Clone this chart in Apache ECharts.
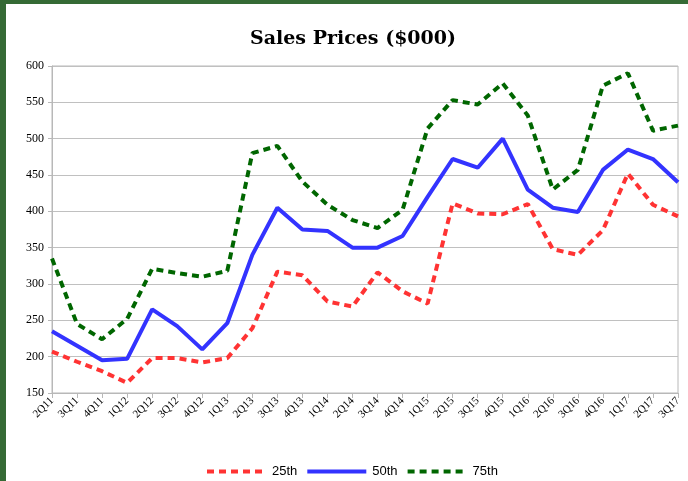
<!DOCTYPE html>
<html>
<head>
<meta charset="utf-8">
<script src="https://cdn.jsdelivr.net/npm/echarts@6/dist/echarts.min.js"></script>
<style>
html,body{margin:0;padding:0;background:#fff;}
#chart{width:688px;height:481px;}
</style>
</head>
<body>
<div id="chart"></div>
<script>
const categories = ['2Q11','3Q11','4Q11','1Q12','2Q12','3Q12','4Q12','1Q13','2Q13','3Q13','4Q13','1Q14','2Q14','3Q14','4Q14','1Q15','2Q15','3Q15','4Q15','1Q16','2Q16','3Q16','4Q16','1Q17','2Q17','3Q17'];
const p25 = [207,193,180,164,198,198,192,198,239,317,312,276,269,316,290,273,411,397,396,410,348,340,374,452,409,393];
const p50 = [235,215,195,197,265,242,210,246,340,405,375,373,350,350,366,420,472,460,500,430,405,399,457,485,472,440];
const p75 = [335,245,224,252,321,315,310,318,480,490,441,409,388,377,402,514,553,547,576,532,430,457,573,590,511,518];
const seriesNames = ['25th','50th','75th'];
const yTicks = {min:150, max:600, interval:50};

const chart = echarts.init(document.getElementById('chart'));
const serifFont = '"DejaVu Serif", "Liberation Serif", serif';
function mk(name, data, color, type){
  return {
    name: name, type: 'line', data: data, symbol: 'none',
    lineStyle: {color: color, width: 4, type: type},
    itemStyle: {color: color},
    animation: false
  };
}
chart.setOption({
  animation: false,
  graphic: [
    {type:'rect', shape:{x:0,y:0,width:688,height:4}, style:{fill:'#356a35'}},
    {type:'rect', shape:{x:0,y:0,width:6,height:481}, style:{fill:'#356a35'}}
  ],
  title: {
    text: 'Sales Prices ($000)',
    left: 348, top: 25, textAlign: 'center',
    textStyle: {fontFamily: serifFont, fontWeight: 'bold', fontSize: 19, color: '#000'}
  },
  legend: {
    data: seriesNames,
    top: 460, left: 200,
    itemWidth: 59, itemHeight: 14, itemGap: 8,
    itemStyle: {opacity: 0},
    lineStyle: {width: 4},
    textStyle: {fontFamily: '"Liberation Sans", Arial, sans-serif', fontSize: 13, color: '#000', padding: [0,0,0,1]}
  },
  grid: {left: 52, right: 10, top: 66, bottom: 88, show: true, borderColor: '#b8b8b8', borderWidth: 1},
  xAxis: {
    type: 'category', data: categories, boundaryGap: false,
    axisLine: {lineStyle: {color: '#b8b8b8', width: 1}},
    axisTick: {show: true, length: 5, lineStyle: {color: '#b8b8b8'}},
    axisLabel: {rotate: 45, fontFamily: '"Liberation Serif", serif', fontSize: 11, color: '#000', margin: 6, interval: 0},
    splitLine: {show: false}
  },
  yAxis: {
    type: 'value', min: yTicks.min, max: yTicks.max, interval: yTicks.interval,
    axisLine: {show: true, lineStyle: {color: '#b8b8b8'}},
    axisTick: {show: true, length: 4, lineStyle: {color: '#b8b8b8'}},
    axisLabel: {fontFamily: '"Liberation Serif", serif', fontSize: 12, color: '#000', margin: 8},
    splitLine: {show: true, lineStyle: {color: '#c0c0c0', width: 1}}
  },
  series: [
    mk(seriesNames[0], p25, '#ff3333', [7,5]),
    mk(seriesNames[1], p50, '#3333ff', 'solid'),
    mk(seriesNames[2], p75, '#006600', [7,5])
  ]
});
</script>
</body>
</html>
